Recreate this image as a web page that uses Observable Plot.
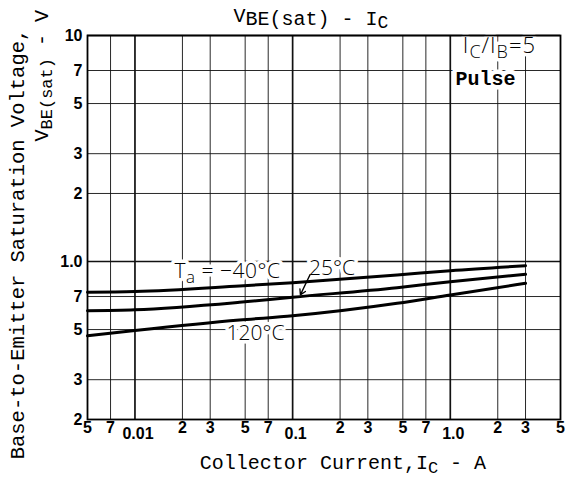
<!DOCTYPE html>
<html><head><meta charset="utf-8">
<script src="https://cdn.jsdelivr.net/npm/d3@7"></script>
<script src="https://cdn.jsdelivr.net/npm/@observablehq/plot@0.6"></script>
<style>body{margin:0;background:#fff}</style>
</head><body><div id="chart"></div>
<script>
// Collector current (A) sample points
const currentA = [0.005, 0.01, 0.046, 0.1, 0.46, 1.0, 3];
// V_BE(sat) (V) for each ambient temperature
const vMinus40 = [0.731, 0.736, 0.779, 0.806, 0.871, 0.911, 0.958];
const v25      = [0.606, 0.612, 0.660, 0.695, 0.766, 0.814, 0.878];
const v120     = [0.469, 0.495, 0.551, 0.575, 0.653, 0.711, 0.801];
const seriesNames = ["-40", "25", "120"];

// Axis ticks and labels
const xTickValues = [0.005, 0.007, 0.01, 0.02, 0.03, 0.05, 0.07, 0.1, 0.2, 0.3, 0.5, 0.7, 1, 2, 3, 5];
const xTickLabels = ["5", "7", "0.01", "2", "3", "5", "7", "0.1", "2", "3", "5", "7", "1.0", "2", "3", "5"];
const xDecades = [0.01, 0.1, 1];
const yTickValues = [0.2, 0.3, 0.5, 0.7, 1, 2, 3, 5, 7, 10];
const yTickLabels = ["2", "3", "5", "7", "1.0", "2", "3", "5", "7", "10"];
const yDecades = [1, 10];

// Annotations (position in data units)
const labelText = ["Ta = \u221240\u00B0C", "25\u00B0C", "120\u00B0C", "IC/IB=5", "Pulse"];
const labelX    = [0.0386, 0.178, 0.0582, 2.05, 1.67];
const labelY    = [0.908, 0.936, 0.483, 8.99, 6.42];
const arrowFrom = [0.129, 0.875];
const arrowTo   = [0.112, 0.712];

const rows = [];
[vMinus40, v25, v120].forEach((vals, s) => vals.forEach((v, i) => rows.push({s: seriesNames[s], x: currentA[i], y: v})));
const labels = labelText.map((t, i) => ({t, x: labelX[i], y: labelY[i]}));
const plainLabels = labels.filter(d => d.t !== "Pulse");
const boldLabels = labels.filter(d => d.t === "Pulse");
const xDigit = xTickValues.filter(v => !xDecades.includes(v));
const fmtX = d => xTickLabels[xTickValues.indexOf(d)];
const fmtY = d => yTickLabels[yTickValues.indexOf(d)];
const tickFont = {fontSize: 16, fontWeight: "bold", fontFamily: "Liberation Sans, sans-serif", fill: "black"};

const plot = Plot.plot({
  width: 571, height: 480,
  marginLeft: 87, marginRight: 11, marginTop: 35, marginBottom: 61,
  x: {type: "log", domain: [0.005, 5], axis: null},
  y: {type: "log", domain: [0.2, 10], axis: null},
  style: {background: "white", color: "black"},
  marks: [
    Plot.ruleX(xTickValues, {stroke: "#111", strokeWidth: d => xDecades.includes(d) ? 1.7 : 0.9}),
    Plot.ruleY(yTickValues, {stroke: "#111", strokeWidth: d => yDecades.includes(d) ? 1.7 : 0.9}),
    Plot.text(plainLabels, {x: "x", y: "y", text: "t", fill: "black", stroke: "white", strokeWidth: 7,
      fontSize: 21, fontFamily: "Open Sans, Liberation Sans, sans-serif", fontWeight: 300}),
    Plot.text(boldLabels, {x: "x", y: "y", text: "t", fill: "black", stroke: "white", strokeWidth: 9,
      fontSize: 20, fontFamily: "Liberation Mono, monospace", fontWeight: "bold"}),
    Plot.line(rows, {x: "x", y: "y", z: "s", stroke: "black", strokeWidth: 3, curve: "monotone-x"}),
    Plot.arrow([0], {x1: () => arrowFrom[0], y1: () => arrowFrom[1], x2: () => arrowTo[0], y2: () => arrowTo[1],
      stroke: "black", strokeWidth: 1.3, headLength: 7, bend: 0}),
    Plot.frame({stroke: "black", strokeWidth: 1.8}),
    Plot.text(xDigit, {x: d => d, text: fmtX, frameAnchor: "bottom", dy: 13, ...tickFont}),
    Plot.text(xDecades, {x: d => d, text: fmtX, frameAnchor: "bottom", dy: 19, dx: 3, ...tickFont}),
    Plot.text(yTickValues, {y: d => d, text: fmtY, frameAnchor: "left", textAnchor: "end", dx: -5, ...tickFont})
  ]
});
document.getElementById("chart").appendChild(plot);

const svg = d3.select(plot);
// subscript rewriting for annotation labels
svg.selectAll("text").each(function() {
  const el = d3.select(this);
  const t = this.textContent;
  if (t === labelText[0]) {
    el.text(null).attr("letter-spacing", 0.5);
    el.append("tspan").text("T");
    el.append("tspan").attr("dy", 5).attr("font-size", 17).text("a");
    el.append("tspan").attr("dy", -5).text(" = \u221240\u00B0C");
  } else if (t === labelText[3]) {
    el.text(null).attr("font-size", 22).attr("letter-spacing", 1);
    el.append("tspan").text("I");
    el.append("tspan").attr("dy", 5).attr("font-size", 18).text("C");
    el.append("tspan").attr("dy", -5).text("\u2215I");
    el.append("tspan").attr("dy", 5).attr("font-size", 18).text("B");
    el.append("tspan").attr("dy", -5).text("=5");
  }
});

const mono = "Liberation Mono, monospace";
// Title
const title = svg.append("text").attr("x", 311).attr("y", 25).attr("text-anchor", "middle")
  .attr("font-family", mono).attr("font-size", 20).attr("fill", "black");
title.append("tspan").attr("dy", -3).text("V");
title.append("tspan").attr("dy", 3).text("BE(sat)");
title.append("tspan").text(" - I");
title.append("tspan").attr("dy", 3).attr("font-size", 18).text("C");

// x label
const xl = svg.append("text").attr("x", 343).attr("y", 469).attr("text-anchor", "middle")
  .attr("font-family", mono).attr("font-size", 20).attr("fill", "black");
xl.append("tspan").text("Collector Current,I");
xl.append("tspan").attr("dy", 4).attr("font-size", 17).text("C");
xl.append("tspan").attr("dy", -4).text(" - A");

// y label, two lines
svg.append("text").attr("transform", "translate(24,244) rotate(-90)").attr("text-anchor", "middle")
  .attr("font-family", mono).attr("font-size", 20.5).attr("fill", "black")
  .text("Base-to-Emitter Saturation Voltage,");
const yl2 = svg.append("text").attr("transform", "translate(48,10) rotate(-90)").attr("text-anchor", "end")
  .attr("font-family", mono).attr("font-size", 20).attr("fill", "black");
yl2.append("tspan").text("V");
yl2.append("tspan").attr("dy", 4).attr("font-size", 17).text("BE(sat)");
yl2.append("tspan").attr("dy", -4).text(" - V");
</script>
</body></html>
